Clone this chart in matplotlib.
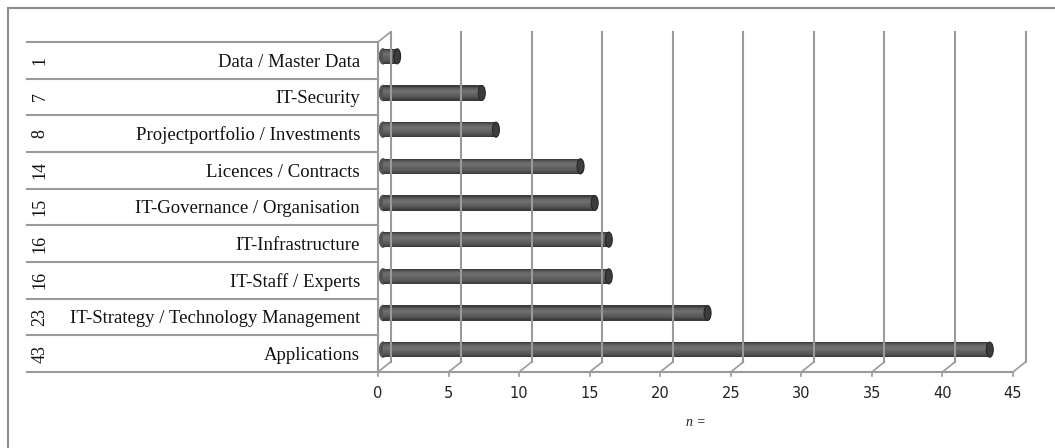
import numpy as np
import matplotlib.pyplot as plt
from matplotlib.patches import Ellipse, Rectangle
from matplotlib.transforms import ScaledTranslation, blended_transform_factory

# survey answers, top row first
categories = ["Data / Master Data", "IT-Security", "Projectportfolio / Investments",
              "Licences / Contracts", "IT-Governance / Organisation", "IT-Infrastructure",
              "IT-Staff / Experts", "IT-Strategy / Technology Management", "Applications"]
counts = [1, 7, 8, 14, 15, 16, 16, 23, 43]
xticks = [0, 5, 10, 15, 20, 25, 30, 35, 40, 45]

W, H = 1055, 448
fig = plt.figure(figsize=(W / 100, H / 100), dpi=100)

# front plane of the 3d box, in pixels
x0, x1, ytop, ybot = 378, 1013, 42, 372
ax = fig.add_axes([x0 / W, (H - ybot) / H, (x1 - x0) / W, (ybot - ytop) / H])
ax.set_xlim(0, 45)
ax.set_ylim(len(categories) - 0.5, -0.5)
ax.axis("off")

grey = "#9a9a9a"
depth_x, depth_y = 12.5, 10  # px offset of the back wall
back = ax.transData + ScaledTranslation(depth_x / 100, depth_y / 100, fig.dpi_scale_trans)
mid = ax.transData + ScaledTranslation(5 / 100, 4 / 100, fig.dpi_scale_trans)

n = len(categories)
ylo, yhi = n - 0.5, -0.5

# back wall gridlines
for t in xticks:
    ax.plot([t, t], [ylo, yhi], color=grey, lw=1.5, transform=back, clip_on=False)

# depth in data units, for the diagonal edges
px_x = ax.bbox.width / 45
px_y = ax.bbox.height / n
dx, dy = depth_x / px_x, depth_y / px_y

# floor front edge, tick marks and diagonals
ax.plot([0, 45], [ylo, ylo], color=grey, lw=1.5, clip_on=False)
for t in xticks:
    ax.plot([t, t + dx], [ylo, ylo - dy], color=grey, lw=1.2, clip_on=False)
    ax.plot([t, t], [ylo, ylo + 4 / px_y], color=grey, lw=1.2, clip_on=False)
    ax.text(t, ylo + 21 / px_y, str(t), ha="center", va="center",
            fontsize=10.5, color="#222222", family="DejaVu Sans")

# left wall
ax.plot([0, 0], [ylo, yhi], color=grey, lw=1.5, clip_on=False)
ax.plot([0, dx], [yhi, yhi - dy], color=grey, lw=1.2, clip_on=False)

# table on the left
tbl = blended_transform_factory(fig.transFigure, ax.transData)
for k in range(n + 1):
    ax.plot([27 / W, x0 / W], [k - 0.5, k - 0.5], color=grey, lw=1.5,
            transform=tbl, clip_on=False)
for i, (cat, c) in enumerate(zip(categories, counts)):
    ax.text(40 / W, i, str(c), rotation=90, ha="center", va="center", transform=tbl,
            fontsize=13, family="Liberation Serif", color="#111111")
    ax.text(360 / W, i + 0.05, cat, ha="right", va="center", transform=tbl,
            fontsize=13.5, family="Liberation Serif", color="#111111")

# cylinder bars, shaded in strips
h = 15 / px_y
prof = [0.24, 0.31, 0.36, 0.40, 0.42, 0.43, 0.42, 0.40, 0.38, 0.36, 0.34, 0.31, 0.28, 0.23]
ns = len(prof)
for i, c in enumerate(counts):
    ax.add_patch(Ellipse((0, i), 7 / px_x, h, color="0.33", transform=mid, clip_on=False))
    for j, g in enumerate(prof):
        yc = i - h / 2 + (j + 0.5) * h / ns
        ax.barh(yc, c, height=h / ns * 1.05, left=0, color=str(g), lw=0,
                transform=mid, clip_on=False)
    ax.add_patch(Ellipse((c, i), 7 / px_x, h, facecolor="#3c3c3c", edgecolor="#262626",
                         lw=0.8, transform=mid, clip_on=False))

ax.text(22.5, ylo + 50 / px_y, "n =", ha="center", va="center", style="italic",
        fontsize=10, family="Liberation Serif", color="#222222")

# chart frame
fig.patches.append(Rectangle((8 / W, -0.1), 1.2, (H - 8) / H + 0.1, transform=fig.transFigure,
                             fill=False, edgecolor="#8c8c8c", lw=1.5))

fig.savefig("out.png", dpi=100)
